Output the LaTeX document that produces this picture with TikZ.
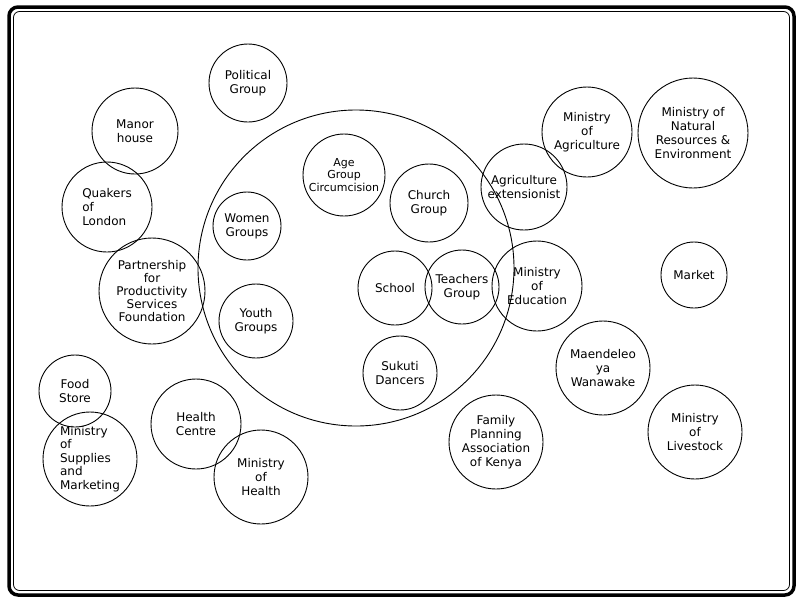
\documentclass[tikz,border=0pt]{standalone}
\usepackage{fontspec}
\setmainfont{DejaVu Sans}
\begin{document}
\begin{tikzpicture}[x=1pt,y=-1pt,
  grp/.style={draw,circle,line width=0.9pt,inner sep=0pt,align=center,font=\fontsize{12}{14}\selectfont},
  smallgrp/.style={grp,font=\fontsize{11}{12.5}\selectfont}]
\useasboundingbox (0,0) rectangle (803,603);
\draw[line width=3.5pt,rounded corners=9pt] (9,7) rectangle (794,595);
\draw[line width=0.8pt,rounded corners=6pt] (13.5,11.5) rectangle (789.5,590.5);
% the community circle
\node[draw,circle,line width=0.9pt,minimum size=316pt] (community) at (356,268) {};
% inside
\node[smallgrp,minimum size=82pt] (agegroup) at (344,175) {Age\\Group\\Circumcision};
\node[grp,minimum size=78pt] (church) at (429,203) {Church\\Group};
\node[grp,minimum size=68pt] (women) at (247,226) {Women\\Groups};
\node[grp,minimum size=74pt] (youth) at (256,321) {Youth\\Groups};
\node[grp,minimum size=74pt] (school) at (395,288) {School};
\node[grp,minimum size=74pt] (teachers) at (462,287) {Teachers\\Group};
\node[grp,minimum size=74pt] (sukuti) at (400,373) {Sukuti\\Dancers};
% on the edge
\node[grp,minimum size=86pt] (extension) at (524,187) {Agriculture\\extensionist};
\node[grp,minimum size=90pt] (education) at (537,286) {Ministry\\of\\Education};
% outside
\node[grp,minimum size=78pt] (political) at (248,83) {Political\\Group};
\node[grp,minimum size=86pt] (manor) at (135,131) {Manor\\house};
\node[grp,minimum size=90pt,align=left] (quakers) at (107,207) {Quakers\\of\\London};
\node[grp,font=\fontsize{12}{13}\selectfont,minimum size=106pt] (partnership) at (152,291) {Partnership\\for\\Productivity\\Services\\Foundation};
\node[grp,minimum size=90pt] (agriculture) at (587,132) {Ministry\\of\\Agriculture};
\node[grp,minimum size=110pt] (natural) at (693,133) {Ministry of\\Natural\\Resources \&\\Environment};
\node[grp,minimum size=66pt] (market) at (694,275) {Market};
\node[grp,minimum size=94pt] (maendeleo) at (603,368) {Maendeleo\\ya\\Wanawake};
\node[grp,minimum size=94pt] (livestock) at (695,432) {Ministry\\of\\Livestock};
\node[grp,minimum size=94pt] (family) at (496,442) {Family\\Planning\\Association\\of Kenya};
\node[grp,minimum size=72pt] (food) at (75,391) {Food\\Store};
\node[grp,font=\fontsize{12}{13.5}\selectfont,align=left,minimum size=94pt] (supplies) at (90,459) {Ministry\\of\\Supplies\\and\\Marketing};
\node[grp,minimum size=90pt] (centre) at (196,424) {Health\\Centre};
\node[grp,minimum size=94pt] (health) at (261,477) {Ministry\\of\\Health};
\end{tikzpicture}
\end{document}
